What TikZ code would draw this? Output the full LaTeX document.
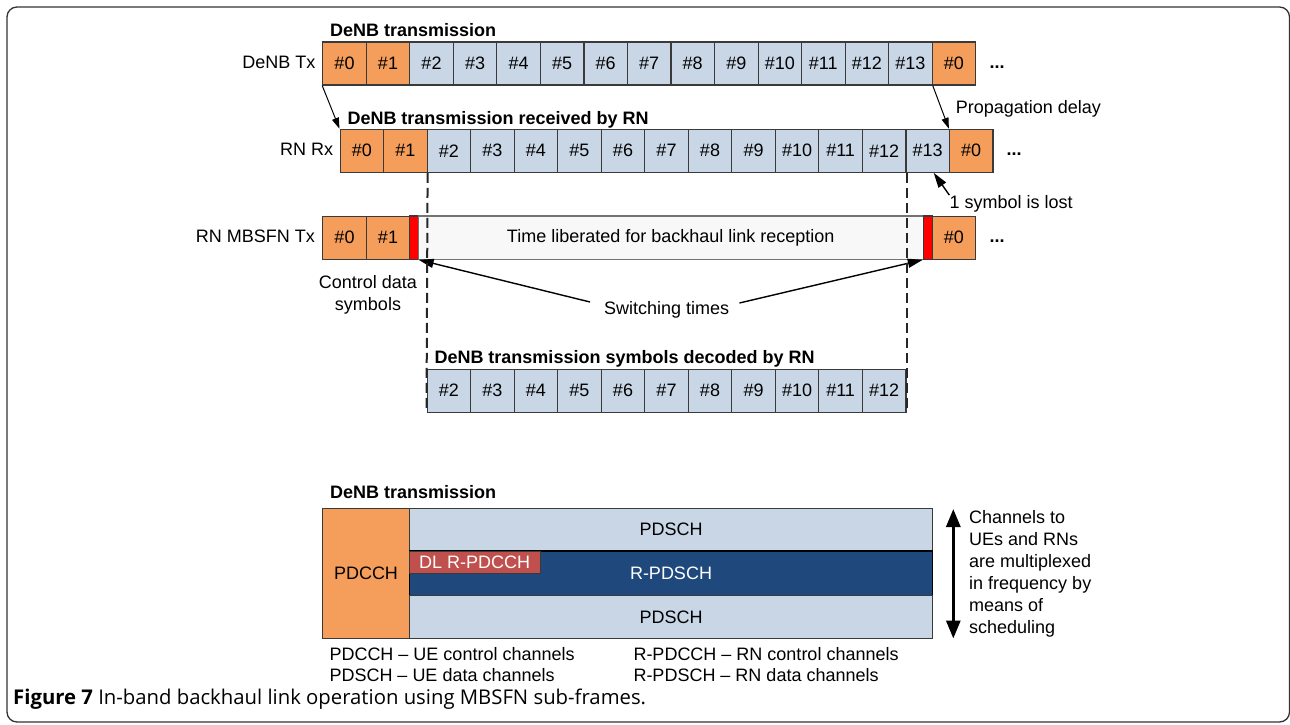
\documentclass[tikz,border=0pt]{standalone}
\usepackage{fontspec}
\setmainfont{Liberation Sans}
\newfontfamily\capfont{Open Sans}
\usetikzlibrary{arrows.meta}
\definecolor{symorange}{HTML}{F59E5B}
\definecolor{symblue}{HTML}{C8D6E6}
\definecolor{rpdschblue}{HTML}{1F497D}
\definecolor{rpdcchred}{HTML}{C0504D}
\definecolor{celledge}{HTML}{3A3A3A}
\definecolor{freegray}{HTML}{F8F8F8}
\begin{document}
\begin{tikzpicture}[x=1pt, y=1pt,
  every node/.style={font=\fontsize{18}{22}\selectfont, inner sep=0pt},
  sym/.style={draw=celledge, line width=1.1pt, minimum width=43.5pt, minimum height=43pt},
  ctlsym/.style={sym, fill=symorange},
  datsym/.style={sym, fill=symblue},
  swbar/.style={draw=celledge, line width=1.1pt, fill=red, minimum width=8.8pt, minimum height=43.3pt},
  title/.style={anchor=base west, font=\fontsize{18}{22}\selectfont\bfseries},
  rowlabel/.style={anchor=east},
  dots/.style={font=\fontsize{18}{22}\selectfont\bfseries},
  cut/.style={line width=2pt, dash pattern=on 10pt off 5pt, draw=black!85},
  smallarr/.style={-{Triangle[length=11pt,width=7pt]}, line width=1pt},
  bigarr/.style={-{Triangle[length=15pt,width=9pt]}, line width=1.4pt},
  band/.style={draw=celledge, line width=1.1pt, minimum width=523.4pt}
]
\useasboundingbox (0,0) rectangle (1290,-725);
\draw [black!80, line width=1.3pt, rounded corners=10pt] (7,-7) rectangle (1289.5,-722);

\node [title] (tx title) at (330,-37) {DeNB transmission};
\node [rowlabel] (tx label) at (315.7,-62.5) {DeNB Tx};
\node [ctlsym] (t0) at (344.5,-63.5) {\#0};
\node [ctlsym] (t1) at (388.0,-63.5) {\#1};
\node [datsym] (t2) at (431.5,-63.5) {\#2};
\node [datsym] (t3) at (475.1,-63.5) {\#3};
\node [datsym] (t4) at (518.6,-63.5) {\#4};
\node [datsym] (t5) at (562.1,-63.5) {\#5};
\node [datsym] (t6) at (605.7,-63.5) {\#6};
\node [datsym] (t7) at (649.2,-63.5) {\#7};
\node [datsym] (t8) at (692.7,-63.5) {\#8};
\node [datsym] (t9) at (736.3,-63.5) {\#9};
\node [datsym] (t10) at (779.8,-63.5) {\#10};
\node [datsym] (t11) at (823.3,-63.5) {\#11};
\node [datsym] (t12) at (866.9,-63.5) {\#12};
\node [datsym] (t13) at (910.4,-63.5) {\#13};
\node [ctlsym] (t14) at (953.9,-63.5) {\#0};
\node [dots] (tx dots) at (997,-67) {...};

\node [title] (rx title) at (347.3,-124) {DeNB transmission received by RN};
\node [rowlabel] (rx label) at (333.3,-149.5) {RN Rx};
\node [ctlsym] (r0) at (361.8,-150.8) {\#0};
\node [ctlsym] (r1) at (405.3,-150.8) {\#1};
\node [datsym] (r2) at (448.8,-150.8) {\#2};
\node [datsym] (r3) at (492.4,-150.8) {\#3};
\node [datsym] (r4) at (535.9,-150.8) {\#4};
\node [datsym] (r5) at (579.4,-150.8) {\#5};
\node [datsym] (r6) at (623.0,-150.8) {\#6};
\node [datsym] (r7) at (666.5,-150.8) {\#7};
\node [datsym] (r8) at (710.0,-150.8) {\#8};
\node [datsym] (r9) at (753.6,-150.8) {\#9};
\node [datsym] (r10) at (797.1,-150.8) {\#10};
\node [datsym] (r11) at (840.6,-150.8) {\#11};
\node [datsym] (r12) at (884.2,-150.8) {\#12};
\node [datsym] (r13) at (927.7,-150.8) {\#13};
\node [ctlsym] (r14) at (971.2,-150.8) {\#0};
\node [dots] (rx dots) at (1014,-154) {...};

\node [anchor=base west] (delay) at (955.7,-113.5) {Propagation delay};
\draw [smallarr] (t0.south west) -- (r0.north west);
\draw [smallarr] (t13.south east) -- (r14.north west);

\node [rowlabel] (mb label) at (315,-236.7) {RN MBSFN Tx};
\node [ctlsym] (m0) at (344.5,-237.6) {\#0};
\node [ctlsym] (m1) at (388.0,-237.6) {\#1};
\node [swbar] (sa) at (413.7,-237.6) {};
\node [draw=black!55, line width=1.1pt, fill=freegray, minimum width=505pt, minimum height=43.3pt] (free) at (670.7,-237.6) {Time liberated for backhaul link reception};
\node [swbar] (sb) at (927.7,-237.6) {};
\node [ctlsym] (m14) at (953.9,-237.6) {\#0};
\node [dots] (mb dots) at (997,-241.5) {...};

\node [anchor=base west] (lost) at (949.3,-208.3) {1 symbol is lost};
\draw [bigarr] (lost.north west) -- ([xshift=6pt]r13.south);

\node [align=center, anchor=north] (ctrl) at (368,-275) {Control data\\symbols};

\node (sw) at (666.7,-310) {Switching times};
\draw [bigarr] ([shift={(-14,8)}]sw.west) -- (sa.south east);
\draw [bigarr] ([shift={(10,7)}]sw.east) -- (sb.south west);

\node [title] (dec title) at (434.3,-363.3) {DeNB transmission symbols decoded by RN};
\node [datsym] (d2) at (448.8,-390.7) {\#2};
\node [datsym] (d3) at (492.4,-390.7) {\#3};
\node [datsym] (d4) at (535.9,-390.7) {\#4};
\node [datsym] (d5) at (579.4,-390.7) {\#5};
\node [datsym] (d6) at (623.0,-390.7) {\#6};
\node [datsym] (d7) at (666.5,-390.7) {\#7};
\node [datsym] (d8) at (710.0,-390.7) {\#8};
\node [datsym] (d9) at (753.6,-390.7) {\#9};
\node [datsym] (d10) at (797.1,-390.7) {\#10};
\node [datsym] (d11) at (840.6,-390.7) {\#11};
\node [datsym] (d12) at (884.2,-390.7) {\#12};

\draw [cut] (r1.south east) -- (d2.south west);
\draw [cut] (r12.south east) -- (d12.south east);

\node [title] (grid title) at (330,-498) {DeNB transmission};
\node [draw=celledge, line width=1.1pt, fill=symorange, minimum width=86.6pt, minimum height=130pt] (pdcch) at (366,-573.3) {PDCCH};
\node [band, fill=symblue, minimum height=42.7pt] (pdsch top) at (671,-529.7) {PDSCH};
\node [band, draw=black, fill=rpdschblue, text=white, minimum height=44.7pt] (rpdsch) at (671,-573.3) {R-PDSCH};
\node [band, fill=symblue, minimum height=42.6pt] (pdsch bot) at (671,-617) {PDSCH};
\node [draw=celledge, line width=1.1pt, fill=rpdcchred, text=white, minimum width=130.7pt, minimum height=22.3pt] (rpdcch) at (474.7,-562.2) {DL R-PDCCH};

\coordinate (ftop) at (953.3,-509);
\coordinate (fbot) at (953.3,-638.5);
\draw [line width=3pt, {Triangle[length=18pt,width=14pt]}-{Triangle[length=18pt,width=14pt]}] (ftop) -- (fbot);
\node [anchor=north west, align=left] (mux) at (969,-510.5) {Channels to\\UEs and RNs\\are multiplexed\\in frequency by\\means of\\scheduling};

\node [anchor=base west] (leg1) at (329.3,-660) {PDCCH -- UE control channels};
\node [anchor=base west] (leg2) at (329.3,-681.7) {PDSCH -- UE data channels};
\node [anchor=base west] (leg3) at (633.3,-660) {R-PDCCH -- RN control channels};
\node [anchor=base west] (leg4) at (633.3,-681.7) {R-PDSCH -- RN data channels};

\node [anchor=base west, font=\capfont\fontsize{20.3}{24}\selectfont] (caption) at (13,-704) {\textbf{Figure 7} In-band backhaul link operation using MBSFN sub-frames.};
\end{tikzpicture}
\end{document}
